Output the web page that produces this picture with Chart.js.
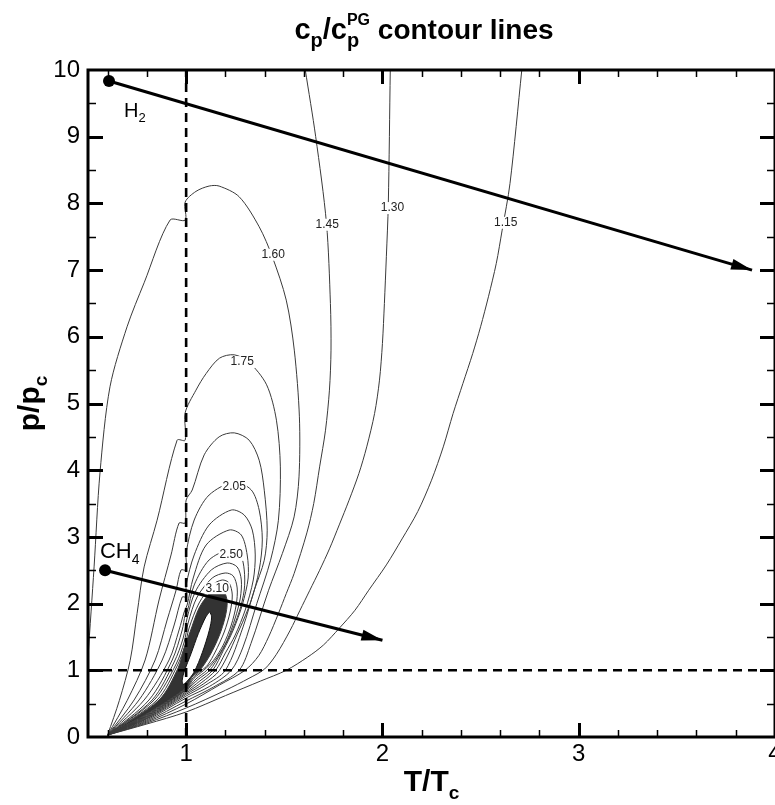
<!DOCTYPE html>
<html>
<head>
<meta charset="utf-8">
<script src="https://cdn.jsdelivr.net/npm/chart.js@4.4.1/dist/chart.umd.min.js"></script>
<style>
html, body { margin: 0; padding: 0; background: #fff; overflow: hidden; }
#cpChart { display: block; }
</style>
</head>
<body>
<canvas id="cpChart" width="790" height="805" style="width:790px;height:805px"></canvas>
<script>
var FONT = '"Liberation Sans", Arial, Helvetica, sans-serif';

var xTickValues = [1, 2, 3, 4];
var yTickValues = [0, 1, 2, 3, 4, 5, 6, 7, 8, 9, 10];

// contour lines of cp/cp_PG as [T/Tc, p/pc]
var contourValues = ['1.15', '1.30', '1.45', '1.60', '1.75', '1.90', '2.05', '2.20', '2.35', '2.50', '2.65', '2.80', '2.95', '3.10'];
var c115 = [[0.6,0.03],[0.8,0.195],[1.0,0.375],[1.2,0.62],[1.38,0.84],[1.51,1.0],[1.62,1.2],[1.7,1.38],[1.78,1.63],[1.86,1.9],[1.93,2.2],[2.02,2.58],[2.1,2.97],[2.18,3.38],[2.25,3.85],[2.31,4.35],[2.36,4.85],[2.41,5.3],[2.46,5.75],[2.5,6.15],[2.54,6.6],[2.58,7.1],[2.61,7.6],[2.65,8.3],[2.71,10]];
var c130 = [[0.6,0.03],[0.8,0.21],[1.0,0.435],[1.2,0.7],[1.32,0.88],[1.40,1.02],[1.46,1.24],[1.53,1.6],[1.58,1.9],[1.63,2.2],[1.68,2.5],[1.73,2.82],[1.78,3.18],[1.83,3.55],[1.88,3.95],[1.92,4.35],[1.96,4.85],[1.985,5.35],[2.0,5.9],[2.01,6.5],[2.02,7.2],[2.03,8.0],[2.04,10]];
var c145 = [[0.6,0.03],[0.8,0.225],[1.0,0.495],[1.17,0.78],[1.3,1.0],[1.37,1.22],[1.42,1.5],[1.47,1.85],[1.51,2.15],[1.55,2.45],[1.615,3.06],[1.65,3.5],[1.68,4.05],[1.71,4.6],[1.73,5.2],[1.738,5.8],[1.735,6.5],[1.715,7.7],[1.66,9.0],[1.607,10]];
var c160 = [[0.5,1.2],[0.531,2.55],[0.561,3.96],[0.612,5.25],[0.699,6.15],[0.786,6.81],[0.918,7.75],[0.995,7.75],[0.995,8.02],[1.05,8.18],[1.117,8.26],[1.168,8.26],[1.27,8.1],[1.372,7.65],[1.439,7.2],[1.51,6.55],[1.551,5.8],[1.577,4.8],[1.575,3.9],[1.55,3.3],[1.49,2.75],[1.42,2.2],[1.33,1.4],[1.27,1.0],[1.14,0.75],[1.0,0.54],[0.8,0.24],[0.6,0.03]];
var c175 = [[0.6,0.03],[0.66,0.55],[0.715,1.15],[0.75,1.85],[0.786,2.55],[0.852,3.25],[0.954,4.45],[0.995,4.45],[0.995,4.86],[1.05,5.2],[1.102,5.45],[1.17,5.68],[1.245,5.73],[1.32,5.62],[1.41,5.28],[1.46,4.75],[1.48,4.05],[1.47,3.25],[1.43,2.65],[1.36,2.0],[1.29,1.35],[1.23,1.0],[1.12,0.76],[1.0,0.585],[0.8,0.255],[0.6,0.03]];
var c190 = [[0.6,0.03],[0.7,0.55],[0.791,1.154],[0.862,2.054],[0.923,2.729],[0.964,3.208],[0.995,3.208],[1.0,3.553],[1.031,3.703],[1.092,4.23],[1.168,4.5],[1.245,4.56],[1.321,4.45],[1.372,4.15],[1.398,3.7],[1.413,3.1],[1.398,2.65],[1.347,2.2],[1.29,1.65],[1.2,1.0],[1.1,0.78],[1.0,0.615],[0.8,0.27],[0.6,0.03]];
var c205 = [[0.6,0.03],[0.735,0.555],[0.842,1.154],[0.903,1.754],[0.949,2.204],[0.974,2.504],[1.0,2.504],[1.0,2.759],[1.041,3.253],[1.117,3.628],[1.245,3.823],[1.332,3.703],[1.372,3.403],[1.388,2.954],[1.372,2.504],[1.332,2.054],[1.27,1.604],[1.17,1.0],[1.09,0.8],[1.0,0.64],[0.8,0.28],[0.6,0.03]];
var c220 = [[0.6,0.03],[0.76,0.555],[0.878,1.154],[0.939,1.679],[0.98,2.099],[1.0,2.099],[1.0,2.279],[1.041,2.729],[1.117,3.178],[1.23,3.403],[1.296,3.328],[1.337,3.103],[1.352,2.729],[1.342,2.354],[1.301,1.904],[1.25,1.529],[1.2,1.26],[1.15,1.0],[1.08,0.82],[1.0,0.66],[0.8,0.29],[0.6,0.03]];
var c235 = [[0.6,0.03],[0.786,0.555],[0.913,1.154],[0.964,1.604],[0.99,1.874],[1.005,1.979],[1.036,2.384],[1.102,2.879],[1.219,3.103],[1.281,3.028],[1.311,2.729],[1.316,2.384],[1.286,1.979],[1.24,1.604],[1.19,1.3],[1.135,1.0],[1.07,0.84],[1.0,0.68],[0.8,0.30],[0.6,0.03]];
var c250 = [[0.6,0.03],[0.811,0.555],[0.929,1.154],[0.98,1.604],[0.995,1.829],[1.005,1.874],[1.041,2.279],[1.117,2.654],[1.219,2.804],[1.276,2.729],[1.296,2.504],[1.296,2.204],[1.27,1.874],[1.224,1.529],[1.175,1.25],[1.12,1.0],[1.06,0.86],[1.0,0.70],[0.8,0.31],[0.6,0.03]];
var c265 = [[0.6,0.03],[0.827,0.555],[0.939,1.124],[0.985,1.484],[1.005,1.784],[1.046,2.174],[1.128,2.504],[1.209,2.609],[1.26,2.549],[1.281,2.354],[1.276,2.084],[1.25,1.784],[1.209,1.454],[1.16,1.2],[1.105,1.0],[1.05,0.87],[1.0,0.71],[0.8,0.32],[0.6,0.03]];
var c280 = [[0.6,0.03],[0.837,0.555],[0.949,1.094],[0.99,1.424],[1.01,1.709],[1.056,2.099],[1.133,2.384],[1.199,2.459],[1.24,2.414],[1.26,2.234],[1.255,1.979],[1.23,1.679],[1.189,1.379],[1.14,1.15],[1.09,1.0],[1.04,0.88],[1.0,0.72],[0.8,0.33],[0.6,0.03]];
var c295 = [[0.6,0.03],[0.852,0.555],[0.954,1.064],[0.995,1.379],[1.015,1.634],[1.066,2.009],[1.133,2.279],[1.184,2.354],[1.219,2.309],[1.235,2.129],[1.224,1.874],[1.194,1.574],[1.148,1.274],[1.11,1.08],[1.08,1.0],[1.035,0.89],[1.0,0.73],[0.8,0.34],[0.6,0.03]];
var c310 = [[0.6,0.03],[0.862,0.555],[0.959,1.034],[0.99,1.334],[1.02,1.574],[1.066,1.934],[1.117,2.144],[1.158,2.204],[1.194,2.174],[1.209,2.024],[1.199,1.799],[1.168,1.514],[1.122,1.229],[1.07,1.0],[1.03,0.9],[1.0,0.74],[0.8,0.35],[0.6,0.03]];
var contourLines = [c115, c130, c145, c160, c175, c190, c205, c220, c235, c250, c265, c280, c295, c310];

// the white peak region inside the dense contours
var peakHole = [[1.12,1.88],[1.13,1.80],[1.118,1.60],[1.083,1.27],[1.04,0.97],[1.0,0.82],[0.985,0.79],[0.98,0.85],[0.99,0.98],[1.025,1.25],[1.062,1.55],[1.1,1.80],[1.12,1.88]];

// inline contour labels
var labelText = ['1.15', '1.30', '1.45', '1.60', '1.75', '2.05', '2.50', '3.10'];
var labelT = [2.628, 2.051, 1.719, 1.444, 1.286, 1.245, 1.23, 1.158];
var labelP = [7.71, 7.93, 7.68, 7.23, 5.62, 3.75, 2.73, 2.23];

// critical point lines
var criticalT = 1;
var criticalP = 1;

// fluid paths
var h2Path = [[0.607, 9.835], [3.883, 7.0]];
var ch4Path = [[0.587, 2.50], [2.0, 1.45]];
var h2Label = [0.684, 9.295];
var ch4Label = [0.561, 2.684];

function pts(arr) {
  return arr.map(function (d) { return { x: d[0], y: d[1] }; });
}

var datasets = [];
contourLines.forEach(function (c, i) {
  datasets.push({
    label: contourValues[i], data: pts(c), showLine: true,
    borderColor: '#3a3a3a', borderWidth: 1, pointRadius: 0,
    tension: 0.3, fill: false, order: 5
  });
});
datasets.push({
  label: 'dense', data: pts(c310), showLine: true, borderWidth: 0,
  borderColor: 'rgba(0,0,0,0)', backgroundColor: '#333333', fill: 'shape',
  pointRadius: 0, tension: 0.3, order: 8
});
datasets.push({
  label: 'peak', data: pts(peakHole), showLine: true, borderWidth: 1,
  borderColor: '#111', backgroundColor: '#fff', fill: 'shape',
  pointRadius: 0, tension: 0.3, order: 7
});
datasets.push({
  label: 'Tc', data: [{ x: criticalT, y: 0 }, { x: criticalT, y: 10 }], showLine: true,
  borderColor: '#000', borderWidth: 2.6, borderDash: [9, 6], pointRadius: 0, order: 3
});
datasets.push({
  label: 'pc', data: [{ x: 0.5, y: criticalP }, { x: 4, y: criticalP }], showLine: true,
  borderColor: '#000', borderWidth: 2.6, borderDash: [9, 6], pointRadius: 0, order: 3
});
var arrowSets = [];
[h2Path, ch4Path].forEach(function (path) {
  arrowSets.push(datasets.length);
  datasets.push({
    label: 'path', data: pts(path), showLine: true,
    borderColor: '#000', borderWidth: 3, backgroundColor: '#000',
    pointBackgroundColor: '#000', pointBorderWidth: 0,
    pointRadius: function (ctx) { return ctx.dataIndex === 0 ? 6 : 0; },
    order: 1
  });
});

function richDraw(ctx, parts, x0, y0, weight, doDraw) {
  var prevStart = 0, maxEnd = 0;
  parts.forEach(function (p) {
    ctx.font = weight + ' ' + p.s + 'px ' + FONT;
    var w = ctx.measureText(p.t).width;
    var s = p.stack ? prevStart : maxEnd;
    if (doDraw) ctx.fillText(p.t, x0 + s, y0 + (p.dy || 0));
    prevStart = s;
    maxEnd = Math.max(maxEnd, s + w);
  });
  return maxEnd;
}

var decor = {
  id: 'decor',
  afterDatasetsDraw: function (chart) {
    var ctx = chart.ctx, xs = chart.scales.x, ys = chart.scales.y;
    ctx.save();
    // arrow heads
    arrowSets.forEach(function (idx) {
      var meta = chart.getDatasetMeta(idx);
      var a = meta.data[0], b = meta.data[1];
      var ang = Math.atan2(b.y - a.y, b.x - a.x);
      ctx.translate(b.x, b.y);
      ctx.rotate(ang);
      ctx.beginPath();
      ctx.moveTo(0, 0);
      ctx.lineTo(-21, -5.5);
      ctx.lineTo(-21, 5.5);
      ctx.closePath();
      ctx.fillStyle = '#000';
      ctx.fill();
      ctx.setTransform(1, 0, 0, 1, 0, 0);
    });
    // contour labels
    ctx.font = '12px ' + FONT;
    ctx.textAlign = 'center';
    ctx.textBaseline = 'middle';
    labelText.forEach(function (t, i) {
      var px = xs.getPixelForValue(labelT[i]), py = ys.getPixelForValue(labelP[i]);
      var w = ctx.measureText(t).width;
      ctx.fillStyle = '#fff';
      ctx.fillRect(px - w / 2 - 1, py - 6, w + 2, 12);
      ctx.fillStyle = '#222';
      ctx.fillText(t, px, py);
    });
    // fluid names
    ctx.textAlign = 'left';
    ctx.textBaseline = 'alphabetic';
    ctx.fillStyle = '#000';
    richDraw(ctx, [{ t: 'H', s: 20 }, { t: '2', s: 13, dy: 5 }],
      xs.getPixelForValue(h2Label[0]), ys.getPixelForValue(h2Label[1]), 'normal', true);
    richDraw(ctx, [{ t: 'CH', s: 22 }, { t: '4', s: 14, dy: 6 }],
      xs.getPixelForValue(ch4Label[0]), ys.getPixelForValue(ch4Label[1]), 'normal', true);
    ctx.restore();
  },
  afterDraw: function (chart) {
    var ctx = chart.ctx, a = chart.chartArea, xs = chart.scales.x, ys = chart.scales.y;
    ctx.save();
    ctx.strokeStyle = '#000';
    // inner ticks on all four sides
    var k, v, px, py, major;
    for (k = 3; k <= 19; k++) {
      v = k * 0.2;
      major = (k % 5 === 0);
      px = Math.round(xs.getPixelForValue(v)) + 0.5;
      ctx.lineWidth = major ? 3 : 1.5;
      var L = major ? 14 : 7;
      ctx.beginPath();
      ctx.moveTo(px, a.bottom); ctx.lineTo(px, a.bottom - L);
      ctx.moveTo(px, a.top); ctx.lineTo(px, a.top + L);
      ctx.stroke();
    }
    for (k = 1; k <= 19; k++) {
      v = k * 0.5;
      major = (k % 2 === 0);
      py = Math.round(ys.getPixelForValue(v)) + 0.5;
      ctx.lineWidth = major ? 3 : 1.5;
      var M = major ? 15 : 8;
      ctx.beginPath();
      ctx.moveTo(a.left, py); ctx.lineTo(a.left + M, py);
      ctx.moveTo(a.right, py); ctx.lineTo(a.right - M, py);
      ctx.stroke();
    }
    ctx.lineWidth = 3;
    ctx.strokeRect(a.left, a.top, a.right - a.left, a.bottom - a.top);

    // titles
    ctx.fillStyle = '#000';
    ctx.textAlign = 'left';
    ctx.textBaseline = 'alphabetic';
    var titleParts = [
      { t: 'c', s: 29 }, { t: 'p', s: 20, dy: 8 }, { t: '/c', s: 29 },
      { t: 'p', s: 20, dy: 8 }, { t: 'PG', s: 16, dy: -14, stack: true },
      { t: ' contour lines', s: 28 }
    ];
    var tw = richDraw(ctx, titleParts, 0, 0, 'bold', false);
    richDraw(ctx, titleParts, 424 - tw / 2, 39, 'bold', true);

    var xParts = [{ t: 'T/T', s: 30 }, { t: 'c', s: 19, dy: 8 }];
    var xw = richDraw(ctx, xParts, 0, 0, 'bold', false);
    richDraw(ctx, xParts, (a.left + a.right) / 2 - xw / 2, 791, 'bold', true);

    var yParts = [{ t: 'p/p', s: 30 }, { t: 'c', s: 19, dy: 8 }];
    var yw = richDraw(ctx, yParts, 0, 0, 'bold', false);
    ctx.translate(39, (a.top + a.bottom) / 2);
    ctx.rotate(-Math.PI / 2);
    richDraw(ctx, yParts, -yw / 2, 0, 'bold', true);
    ctx.restore();
  }
};

new Chart(document.getElementById('cpChart'), {
  type: 'scatter',
  data: { datasets: datasets },
  options: {
    responsive: false,
    animation: false,
    devicePixelRatio: 1,
    layout: { padding: { top: 70, right: 15, left: 0, bottom: 0 } },
    elements: { point: { radius: 0, hoverRadius: 0 } },
    plugins: { legend: { display: false }, tooltip: { enabled: false } },
    scales: {
      x: {
        type: 'linear', min: 0.5, max: 4,
        grid: { display: false, drawTicks: false },
        border: { display: false },
        afterBuildTicks: function (scale) {
          scale.ticks = xTickValues.map(function (v) { return { value: v }; });
        },
        afterFit: function (scale) { scale.height = 68; },
        ticks: { autoSkip: false, maxRotation: 0, padding: 3, color: '#000', font: { family: FONT, size: 24 } }
      },
      y: {
        type: 'linear', min: 0, max: 10,
        grid: { display: false, drawTicks: false },
        border: { display: false },
        afterBuildTicks: function (scale) {
          scale.ticks = yTickValues.map(function (v) { return { value: v }; });
        },
        afterFit: function (scale) { scale.width = 88; },
        ticks: { autoSkip: false, padding: 8, color: '#000', font: { family: FONT, size: 24 } }
      }
    }
  },
  plugins: [decor]
});
</script>
</body>
</html>
